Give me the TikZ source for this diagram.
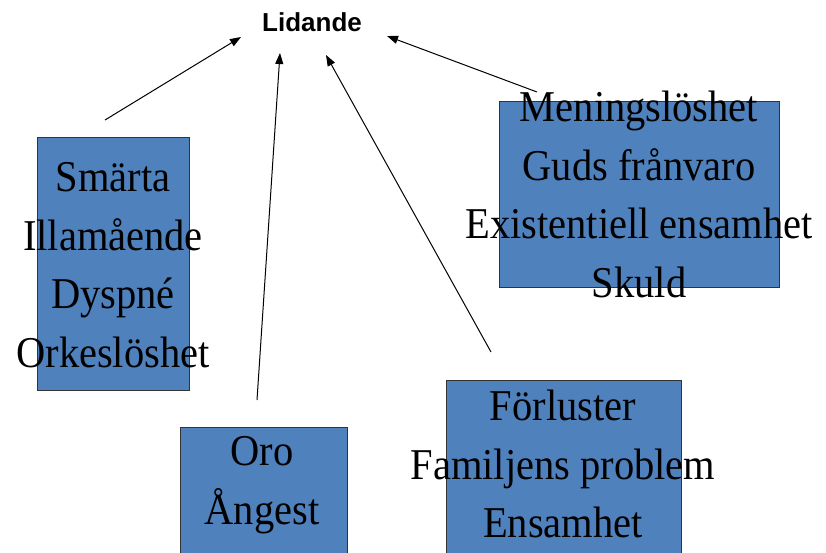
\documentclass[tikz,border=0pt]{standalone}
\usepackage{fontspec}
\setmainfont{Liberation Serif}
\newfontfamily\boxfont{Liberation Serif}[FakeStretch=0.92]
\newfontfamily\headfont{Liberation Sans}
\usetikzlibrary{arrows.meta}
\definecolor{boxblue}{RGB}{79,129,189}

\begin{document}
\begin{tikzpicture}[x=1pt, y=-1pt,
  panel/.style={draw=black!80, line width=0.7pt, fill=boxblue, inner sep=0pt},
  boxtext/.style={align=center, inner sep=0pt, font=\boxfont\fontsize{44}{58.5}\selectfont},
  pointer/.style={line width=1pt, -{Triangle[length=11pt, width=8pt]}}]

 \useasboundingbox (0,0) rectangle (826,553);
 \clip (0,0) rectangle (826,553);

 % Title
 \node [font=\headfont\bfseries\fontsize{26}{30}\selectfont, inner sep=0pt] (lidande) at (312,22.5) {Lidande};

 % Boxes for the four kinds of suffering
 \node [panel, minimum width=152pt, minimum height=253pt] (smarta) at (113,263.5) {};
 \node [panel, minimum width=167pt, minimum height=193pt] (oro) at (263.5,523.5) {};
 \node [panel, minimum width=235pt, minimum height=240pt] (forluster) at (563.5,500) {};
 \node [panel, minimum width=280pt, minimum height=186pt] (mening) at (639,194) {};

 % Texts, wider than their boxes
 \node [boxtext] (smartaText) at (113,265) {Smärta\\Illamående\\Dyspné\\Orkeslöshet};
 \node [boxtext] (oroText) at (262,485) {Oro\\Ångest};
 \node [boxtext] (forlusterText) at (563,464) {Förluster\\Familjens problem\\Ensamhet};
 \node [boxtext] (meningText) at (639,194.5) {Meningslöshet\\Guds frånvaro\\Existentiell ensamhet\\Skuld};

 % Ends of the arrows
 \coordinate (smartaOut) at (105,120);
 \coordinate (oroOut) at (257,400);
 \coordinate (forlusterOut) at (491,352);
 \coordinate (meningOut) at (537,92);
 \coordinate (lidandeA) at (241,37);
 \coordinate (lidandeB) at (280,53);
 \coordinate (lidandeC) at (326,55);
 \coordinate (lidandeD) at (387,36);

 % Arrows up to the title
 \draw [pointer] (smartaOut) -- (lidandeA);
 \draw [pointer] (oroOut) -- (lidandeB);
 \draw [pointer] (forlusterOut) -- (lidandeC);
 \draw [pointer] (meningOut) -- (lidandeD);

\end{tikzpicture}
\end{document}
